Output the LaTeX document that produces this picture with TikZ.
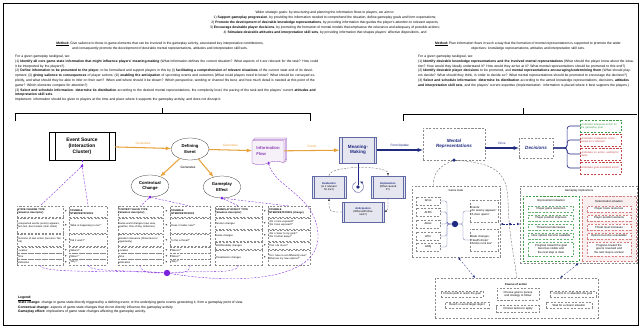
\documentclass[tikz,border=0pt]{standalone}
\usepackage{fontspec}
\setmainfont{Liberation Sans}
\usetikzlibrary{shapes.geometric, shapes.symbols, shadows, positioning}
\definecolor{flowOrange}{HTML}{E8A23C}
\definecolor{mindNavy}{HTML}{1F2A80}
\definecolor{infoPurple}{HTML}{8E3FB5}
\definecolor{dotPurple}{HTML}{7B1FE0}
\definecolor{boxGrey}{HTML}{8A8A8A}
\definecolor{goodGreen}{HTML}{3E9E4A}
\definecolor{badRed}{HTML}{C6474B}
\definecolor{badPink}{HTML}{FBEEEE}
\definecolor{mmFill}{HTML}{E6E6F0}

\begin{document}
\begin{tikzpicture}[x=0.5mm, y=-0.5mm,
  tinyText/.style={font=\fontsize{4}{4.8}\selectfont, inner sep=0.8pt},
  bodyText/.style={font=\fontsize{4.8}{6.8}\selectfont},
  cell/.style={draw=boxGrey, densely dashed, font=\fontsize{3.6}{4.3}\selectfont, align=left, inner sep=0.8pt, anchor=north west},
  plus/.style={font=\fontsize{5}{5}\selectfont\bfseries, inner sep=0},
  ghost/.style={draw=boxGrey, densely dashed},
  procbox/.style={rectangle, draw, align=center, path picture={\draw ([xshift=#1]path picture bounding box.north west) -- ([xshift=#1]path picture bounding box.south west) ([xshift=-#1]path picture bounding box.north east) -- ([xshift=-#1]path picture bounding box.south east);}},
  procbox/.default=1.3mm,
  evt/.style={ellipse, draw=black!80, fill=white, align=center, inner sep=0, minimum width=19mm, minimum height=11mm, font=\fontsize{6}{7.2}\selectfont\bfseries},
  orangeArrow/.style={-latex, line width=1.5pt, flowOrange},
  navyArrow/.style={-latex, line width=1.5pt, mindNavy},
  arrowLabel/.style={font=\fontsize{4.5}{5}\selectfont, inner sep=0.5pt},
  purpleDash/.style={dotPurple, densely dashed, line width=0.5pt},
  pdot/.style={circle, fill=dotPurple, inner sep=0, minimum size=1.5mm},
  navyDot/.style={circle, fill=mindNavy, inner sep=0, minimum size=1.5mm},
  cycleArrow/.style={black!70, densely dashed, -latex},
  subproc/.style={procbox=0.9mm, draw=mindNavy!70, fill=mmFill, tinyText, font=\fontsize{3.8}{4.5}\selectfont, minimum height=11mm},
  choice/.style={ghost, tinyText, font=\fontsize{3.8}{4.5}\selectfont, text width=20mm, minimum height=6.2mm, align=left, anchor=west},
]
\useasboundingbox (0,0) rectangle (641,328);
\draw[line width=0.7pt] (3,3) rectangle (638,325);

% Ziele oben
\node[bodyText, align=center, anchor=north] (aims) at (325,9) {
  Wider strategic goals: by structuring and planning the information flows to players, we aim to:\\
  1) \textbf{Support gameplay progression}, by providing the information needed to comprehend the situation, define gameplay goals and form expectations;\\
  2) \textbf{Promote the development of desirable knowledge representations}, by providing information that guides the player's attention to relevant aspects;\\
  3) \textbf{Encourage desirable player decisions}, by promoting the formation of mental models that emphasise the relevance and adequacy of possible actions;\\
  4) \textbf{Stimulate desirable attitudes and interpretation skill sets}, by providing information that shapes players' affective dispositions, and};

\node[bodyText, align=center] (methodLeft) at (160,46) {
  \underline{\textbf{Method:}} Give salience to those in-game elements that can be involved in the gameplay activity, associated key interpretative contributions,\\
  and consequently promote the development of desirable mental representations, attitudes and interpretation skill sets.};
\node[bodyText, align=center] (methodRight) at (528,46) {
  \underline{\textbf{Method:}} Plan information flows in such a way that the formation of mental representations is supported to promote the wider\\
  objectives: knowledge representations, attitudes and interpretation skill sets.};

\node[bodyText, align=left, text width=152mm, anchor=north west, inner sep=0] (stepsLeft) at (15,55) {
  For a given gameplay task/goal, we:\\
  (1) \textbf{Identify all core game state information that might influence players' meaning-making} (What information defines the current situation? What aspects of it are relevant for the task? How could it be interpreted by the players?)\\
  (2) \textbf{Define information to be presented to the player}, to be formalised and support players in this by (i) \textbf{facilitating a comprehension of relevant situations} of the current state and of its development; (ii) \textbf{giving salience to consequences} of player actions; (iii) \textbf{enabling the anticipation} of upcoming events and outcomes (What could players need to know? What should be conveyed explicitly, and what should they be able to infer on their own? When and where should it be shown? Which perspective, wording or channel fits best, and how much detail is needed at this point of the game? Which elements compete for attention?)\\
  (3) \textbf{Select and schedule information}: \textbf{determine its distribution} according to the desired mental representations, the complexity level, the pacing of the task and the players' current \textbf{attitudes and interpretation skill sets}\\
  Implement: information should be given to players at the time and place where it supports the gameplay activity, and does not disrupt it.};

\node[bodyText, align=left, text width=108mm, anchor=north west, inner sep=0] (stepsRight) at (418,55) {
  For a given gameplay task/goal, we:\\
  (1) \textbf{Identify desirable knowledge representations and the involved mental representations} (What should the player know about the situation? How would they ideally understand it? How would they arrive at it? What mental representations should be promoted to this end?)\\
  (2) \textbf{Identify desirable player decisions} to be promoted, and \textbf{mental representations encouraging/undermining them} (What should players decide? What should they think, in order to decide so? What mental representations should be promoted to encourage the decision?)\\
  (3) \textbf{Select and schedule information}: \textbf{determine its distribution} according to the aimed knowledge representations, decisions, \textbf{attitudes and interpretation skill sets}, and the players' current expertise (Implementation: information is placed where it best supports the players.)};

% Klammern
\draw (15,121) -- (15,113) -- (310,113) -- (310,121);
\draw (162,113) -- (162,108);
\draw (403,121) -- (403,114) -- (637,114);
\draw (523,114) -- (523,108);

% Hauptfluss
\node[procbox=3mm, fill=white, minimum width=33mm, minimum height=14mm, font=\fontsize{7}{8.5}\selectfont\bfseries] (source) at (82,146) {Event Source\\(Interaction\\Cluster)};
\node[evt] (defining) at (190,149) {Defining\\Event};
\node[evt] (contextual) at (150,186) {Contextual\\Change};
\node[evt] (effect) at (222,187) {Gameplay\\Effect};
\node[tape, tape bend top=none, draw=infoPurple, fill=infoPurple!8, double copy shadow={shadow xshift=2pt, shadow yshift=2pt, draw=infoPurple, fill=infoPurple!8}, minimum width=16mm, minimum height=12mm, text=infoPurple, align=left, font=\fontsize{6}{7.5}\selectfont\bfseries] (info) at (268,151) {Information\\Flow};
\node[procbox, draw=mindNavy!70, fill=mmFill, minimum width=18.5mm, minimum height=13mm, text=mindNavy, font=\fontsize{6.5}{8}\selectfont\bfseries] (meaning) at (358,150) {Meaning-\\Making};
\node[ghost, minimum width=31mm, minimum height=16mm, align=center, text=mindNavy, font=\fontsize{6.5}{8}\selectfont\bfseries\itshape] (mental) at (454,144) {Mental\\Representations};
\node[ghost, minimum width=17mm, minimum height=10mm, text=mindNavy, font=\fontsize{6.5}{8}\selectfont\bfseries\itshape] (decisions) at (536,148) {Decisions};

\draw[orangeArrow] (source) -- (defining) node[arrowLabel, midway, above=1.2mm] (genA) {Generates};
\draw[orangeArrow] (defining) -- (info) node[arrowLabel, midway, above=1.2mm] (genB) {Generates};
\draw[orangeArrow] (info) -- (meaning) node[arrowLabel, midway, above=1.2mm] (feeds) {Feeds};
\draw[orangeArrow] (defining) -- (contextual);
\draw[orangeArrow] (defining) -- (effect);
\node[arrowLabel] (genC) at (188,167) {Generates};
\draw[navyArrow] (meaning) -- (meaning -| mental.west) node[arrowLabel, midway, above=1.2mm] (update) {Form/Update};
\draw[navyArrow] (mental.east |- decisions) -- (decisions) node[arrowLabel, midway, above=1.2mm] (drive) {Drive};

% Entscheidungen
\node[choice, draw=goodGreen, text=goodGreen] (choice1) at (580,126) {Undertake adequate action for the gameplay goal};
\node[choice, draw=badRed, text=badRed] (choice2) at (580,140) {Undertake inadequate action, based on a misread};
\node[choice, draw=badRed, text=badRed] (choice3) at (580,154) {Undertake no action, waiting for clarity};
\node[choice, draw=badRed, text=badRed] (choice4) at (580,168) {Undertake goal-unrelated action};
\foreach \c in {choice1,choice2,choice3,choice4}
  \draw[mindNavy, line width=0.9pt, rounded corners=4pt] (decisions.east) -- ++(14,0) |- (\c.west);

% Meaning-Making Zyklus
\node[navyDot, minimum size=1.9mm] (cycle) at (358,187) {};
\draw[mindNavy, -latex] ([shift={(110:2.8mm)}]cycle.center) arc[start angle=110, end angle=430, radius=2.8mm];
\draw[mindNavy] (meaning.south) -- (cycle.north);
\node[subproc, minimum width=17mm] (evaluation) at (329,187) {\textcolor{mindNavy}{\textbf{Evaluation}}\\(Is it relevant\\for me?)};
\node[subproc, minimum width=17mm] (explanation) at (388,187) {\textcolor{mindNavy}{\textbf{Explanation}}\\(What caused\\it?)};
\node[subproc, minimum width=21mm, minimum height=10mm] (anticipation) at (363,212) {\textcolor{mindNavy}{\textbf{Anticipation}}\\(What will follow\\next?)};
\draw[cycleArrow] (evaluation.north) .. controls (329,165) and (388,165) .. (explanation.north);
\draw[cycleArrow] (explanation.south) .. controls (388,210) .. (anticipation.east);
\draw[cycleArrow] (anticipation.west) .. controls (329,212) .. (evaluation.south);

% Tabellen
\node[cell, text width=22.4mm, minimum height=5.5mm] (t1l1) at (17,206) {\textbf{STATE CHANGE TYPE}\\\textbf{(Situation descriptor)}};
\node[cell, text width=22.4mm, minimum height=7.5mm] (t1l2) at (17,218) {Unexpected events (enemy appears, item lost, door locked, timer starts)};
\node[cell, text width=22.4mm, minimum height=6mm] (t1l3) at (17,234) {Outcome of own action (success / failure)};
\node[cell, text width=22.4mm, minimum height=3mm] (t1l4) at (17,247) {Location};
\node[cell, text width=22.4mm, minimum height=3mm] (t1l5) at (17,253) {Time};
\node[cell, text width=22.4mm, minimum height=3mm] (t1l6) at (17,259) {Motivation};
\node[cell, text width=18.4mm, minimum height=5.5mm] (t1r1) at (69,206) {\textbf{POSSIBLE}\\\textbf{INTERPRETATIONS}};
\node[cell, text width=18.4mm, minimum height=7.5mm] (t1r2) at (69,218) {"What is happening to me?"};
\node[cell, text width=18.4mm, minimum height=6mm] (t1r3) at (69,234) {"Did it work?"};
\node[cell, text width=18.4mm, minimum height=3mm] (t1r4) at (69,247) {"Where?"};
\node[cell, text width=18.4mm, minimum height=3mm] (t1r5) at (69,253) {"When?"};
\node[cell, text width=18.4mm, minimum height=3mm] (t1r6) at (69,259) {"Why?"};

\node[cell, text width=21.9mm, minimum height=5.5mm] (t2l1) at (118,206) {\textbf{CONTEXT VALUE TYPE}\\\textbf{(Situation descriptor)}};
\node[cell, text width=21.9mm, minimum height=7.5mm] (t2l2) at (118,218) {Game world changes (new area, weather, time of day, ambience)};
\node[cell, text width=21.9mm, minimum height=6mm] (t2l3) at (118,234) {Situation relevance (threat level or opportunity)};
\node[cell, text width=21.9mm, minimum height=3mm] (t2l4) at (118,247) {Location};
\node[cell, text width=21.9mm, minimum height=3mm] (t2l5) at (118,253) {Time};
\node[cell, text width=21.9mm, minimum height=3mm] (t2l6) at (118,259) {Motivation};
\node[cell, text width=19.4mm, minimum height=5.5mm] (t2r1) at (170,206) {\textbf{POSSIBLE}\\\textbf{INTERPRETATIONS}};
\node[cell, text width=19.4mm, minimum height=7.5mm] (t2r2) at (170,218) {"Does it matter now?"};
\node[cell, text width=19.4mm, minimum height=6mm] (t2r3) at (170,234) {"Is this a threat?"};
\node[cell, text width=19.4mm, minimum height=3mm] (t2r4) at (170,247) {"Where?"};
\node[cell, text width=19.4mm, minimum height=3mm] (t2r5) at (170,253) {"When?"};
\node[cell, text width=19.4mm, minimum height=3mm] (t2r6) at (170,259) {"Why?"};

\node[cell, text width=22.9mm, minimum height=5.5mm] (t3l1) at (215,206) {\textbf{GAMEPLAY EFFECT TYPE}\\\textbf{(Situation descriptor)}};
\node[cell, text width=22.9mm, minimum height=5.5mm] (t3l2) at (215,218) {Tension changes};
\node[cell, text width=22.9mm, minimum height=5.5mm] (t3l3) at (215,230) {Game changes};
\node[cell, text width=22.9mm, minimum height=3.5mm] (t3l4) at (215,242) {Skill/Flexibility changes};
\node[cell, text width=22.9mm, minimum height=7.5mm] (t3l5) at (215,250) {Threat/action changes};
\node[cell, text width=20.4mm, minimum height=5.5mm] (t3r1) at (268,206) {\textbf{POSSIBLE}\\\textbf{INTERPRETATIONS (change)}};
\node[cell, text width=20.4mm, minimum height=5.5mm] (t3r2) at (268,218) {"Am I more exposed?"\\"Am I less exposed?"};
\node[cell, text width=20.4mm, minimum height=5.5mm] (t3r3) at (268,230) {"Am I closer to my goal?"\\"Am I further away?"};
\node[cell, text width=20.4mm, minimum height=3.5mm] (t3r4) at (268,242) {"Can I do more?"};
\node[cell, text width=20.4mm, minimum height=7.5mm] (t3r5) at (268,250) {"Do I have to act differently now? What are my new options?"};

\foreach \y [count=\i] in {211.5,225.5,240,250,256,262} {
  \node[plus] (plusA\i) at (66,\y) {+};
  \node[plus] (plusB\i) at (166.5,\y) {+};
}
\foreach \y [count=\i] in {211.5,223.5,235.5,245.5,257.5}
  \node[plus] (plusC\i) at (265,\y) {+};

% Verbindungen zu den Tabellen
\node[pdot] (sourceDot) at (82,166) {};
\node[pdot] (contextDot) at (contextual.south) {};
\node[pdot] (effectDot) at (effect.south) {};
\node[pdot, minimum size=3.2mm] (mergeDot) at (167,273) {};
\draw[purpleDash] (source) -- (sourceDot);
\draw[purpleDash] (sourceDot) -- (t1l1.north);
\draw[purpleDash] (sourceDot) -- (t1r1.north);
\draw[purpleDash] (contextDot) -- (t2l1.north);
\draw[purpleDash] (contextDot) -- (t2r1.north);
\draw[purpleDash] (effectDot) -- (t3l1.north);
\draw[purpleDash] (effectDot) -- (t3r1.north);
\draw[purpleDash] (t1l6.south) .. controls (40,274) and (120,270) .. (mergeDot);
\draw[purpleDash] (t1r6.south) .. controls (88,272) and (130,270) .. (mergeDot);
\draw[purpleDash] (t2l6.south) .. controls (140,273) and (152,273) .. (mergeDot);
\draw[purpleDash] (t2r6.south) .. controls (190,273) and (180,273) .. (mergeDot);
\draw[purpleDash] (t3l5.south) .. controls (238,275) and (200,270) .. (mergeDot);
\draw[purpleDash, -latex] (mergeDot) .. controls (240,285) and (320,280) .. (318,235) .. controls (316,195) and (275,188) .. (info.south);

% Spielzustand
\node[ghost, minimum width=44mm, minimum height=35.5mm, anchor=north west] (gamestate) at (412,186) {};
\node[tinyText] (gsTitle) at (456,191) {Game state};
\foreach \lab/\y [count=\i] in {ΔPos/201, ΔHlth/212, ΔRes/224, ΔThr/236, ΔObj/247}
  \node[ghost, tinyText, minimum width=12mm, minimum height=4mm, anchor=west] (delta\i) at (416,\y) {\lab};
\node[navyDot, minimum size=3.2mm] (stateDot) at (455,224) {};
\coordinate (stateJoin) at (447,224);
\coordinate (stateSplit) at (463,224);
\foreach \i in {1,...,5}
  \draw[mindNavy!70, rounded corners=3pt] (delta\i.east) -| (stateJoin) -- (stateDot);
\node[ghost, tinyText, text width=13.5mm, minimum height=11mm, align=left, anchor=west] (events) at (470,211) {Events:\\"An enemy appears"\\"A door opens"};
\node[ghost, tinyText, text width=13.5mm, minimum height=11mm, align=left, anchor=west] (changes) at (470,240) {State changes:\\"Health drops"\\"Ammo runs low"};
\draw[mindNavy!70, rounded corners=3pt] (stateDot) -- (stateSplit) |- (events.west);
\draw[mindNavy!70, rounded corners=3pt] (stateDot) -- (stateSplit) |- (changes.west);

% Auswirkungen
\node[ghost, minimum width=58.5mm, minimum height=38.5mm, anchor=north west] (implications) at (520,186) {};
\node[tinyText] (giTitle) at (579,191) {Gameplay Implications};
\node[draw=goodGreen, densely dashed, minimum width=28mm, minimum height=32.5mm, anchor=north west] (improve) at (523,196) {};
\node[draw=badRed!70, fill=badPink, densely dashed, minimum width=27mm, minimum height=32.5mm, anchor=north west] (worsen) at (582,196) {};
\node[tinyText] (impTitle) at (551,201) {Improvement situation};
\node[tinyText] (worTitle) at (609,201) {Deterioration situation};
\foreach \t/\y [count=\i] in {Player gains resources/209, Player position improves/218, Threat level decreases/227, New options become available/236}
  \node[ghost, draw=goodGreen!80, fill=white, tinyText, text width=22mm, minimum height=3mm, align=center] (good\i) at (551,\y) {\t};
\node[ghost, draw=goodGreen!80, fill=white, tinyText, text width=22mm, minimum height=7mm, align=center] (good5) at (551,249) {Progress toward the goal becomes visible and the next step is clear};
\foreach \t/\y [count=\i] in {Player loses resources/209, Player position worsens/218, Threat level increases/227, Options become unavailable/236}
  \node[ghost, draw=badRed!70, fill=white, tinyText, text width=21.5mm, minimum height=3mm, align=center] (bad\i) at (609,\y) {\t};
\node[ghost, draw=badRed!70, fill=white, tinyText, text width=21.5mm, minimum height=7mm, align=center] (bad5) at (609,249) {Progress toward the goal is reversed and the next step is unclear};

\node[navyDot, minimum size=1.3mm] (linkDot) at (510,224) {};
\draw[mindNavy, densely dashed, latex-latex] (gamestate.east |- linkDot) -- (implications.west |- linkDot);

% Handlungsverlauf
\node[ghost, minimum width=81.5mm, minimum height=20mm, anchor=north west] (course) at (435,278) {};
\node[tinyText] (caTitle) at (516,284) {\textbf{Course of action}};
\node[ghost, tinyText, minimum width=21mm, minimum height=3mm] (ca1) at (462,294) {Choose path to reach the goal};
\node[ghost, tinyText, minimum width=22mm, minimum height=3mm] (ca2) at (467,305) {Reach or avoid target object};
\node[ghost, tinyText, text width=20.5mm, minimum height=6mm, align=center] (ca3) at (518,294) {Choose goal to pursue and strategy to follow};
\node[ghost, tinyText, minimum width=21.5mm, minimum height=3.5mm] (ca4) at (518,309) {Choose tactics to apply};
\node[ghost, tinyText, minimum width=23mm, minimum height=3mm] (ca5) at (573,294) {Commit to or abandon the goal};
\node[ghost, tinyText, minimum width=23mm, minimum height=3mm] (ca6) at (569,305) {Wait for a clearer situation};
\draw[mindNavy, densely dashed, latex-latex] ([xshift=1mm]gamestate.south) -- ([xshift=-20.75mm]course.north);
\draw[mindNavy, densely dashed, latex-latex] (implications.south) -- ([xshift=21.75mm]course.north);

\node[navyDot, minimum size=1.8mm] (mentalDot) at (mental.south) {};
\draw[black!70, densely dashed] (mentalDot) .. controls (440,166) and (433,172) .. ([xshift=-11.5mm]gamestate.north);
\draw[black!70, densely dashed] (mentalDot) .. controls (495,163) and (507,172) .. (508,200) .. controls (509,240) and (515,258) .. (course.north);

% Legende
\node[bodyText, align=left, anchor=north west, inner sep=0] (legend) at (18,296) {
  \underline{\textbf{Legend:}}\\
  \textbf{State change:} change in game state directly triggered by a defining event, or the underlying game events generating it, from a gameplay point of view.\\
  \textbf{Contextual change:} aspects of game state changes that do not directly influence the gameplay activity.\\
  \textbf{Gameplay effect:} implications of game state changes affecting the gameplay activity.};
\end{tikzpicture}
\end{document}
